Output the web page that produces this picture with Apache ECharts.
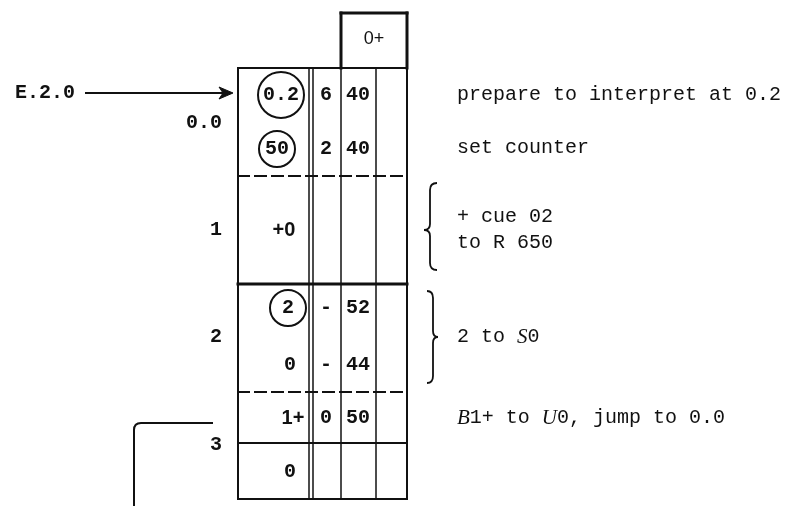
<!DOCTYPE html>
<html><head><meta charset="utf-8">
<script src="https://cdn.jsdelivr.net/npm/echarts@6/dist/echarts.min.js"></script>
<style>html,body{margin:0;padding:0;background:#fff}#c{width:793px;height:506px}</style>
</head><body><div id="c"></div>
<script>
// ---- diagram data (in diagram units; axes map 1 unit = 1 px) ----
const colEdges = [238, 309, 313, 341, 376, 407];        // vertical rules of the store table
const tableTop = 68, tableBottom = 499;
const rowRules = [68, 176, 284, 392, 443, 499];          // horizontal rules
const rowRuleKinds = ['solid', 'dashed', 'thick', 'dashed', 'solid', 'solid'];
const headBox = [341, 13, 407, 68];                      // "0+" box: x0, y0, x1, y1
const headLabel = '0+';

const rowY      = [95, 149, 230, 308, 365, 418, 472];
const colA      = ['0.2', '50', '+0', '2', '0', '1+', '0'];
const colAX     = [281, 277, 284, 288, 290, 293, 290];
const colARing  = [23, 18, 0, 18, 0, 0, 0];
const colB      = ['6', '2', '', '-', '-', '0', ''];
const colC      = ['40', '40', '', '52', '44', '50', ''];
const colBX = 326, colCX = 358;

const entryLabel = 'E.2.0';
const entryY = 93;
const addrLabels = ['0.0', '1', '2', '3'];
const addrY      = [123, 230, 337, 445];

const notes  = ['prepare to interpret at 0.2', 'set counter', '+ cue 02', 'to R 650',
                '2 to {i|S}0', '{i|B}1+ to {i|U}0, jump to 0.0'];
const notesY = [95, 148, 217, 243, 337, 418];
const notesX = 457;

// braces: [endX, spineX, tipX, yTop, yMid, yBottom]
const braces = [[437, 430, 424, 183, 230, 270], [427, 433, 438, 291, 337, 383]];
// arrow into 0.0: [startX, tipX, y]; jump-back bracket: [startX, y, cornerX, endY]
const arrow = [85, 233, entryY];
const jump = [213, 423, 134, 506];

// ---- build drawable items ----
const segs = [];
colEdges.forEach((x, i) => segs.push({p: [x, tableTop, x, tableBottom], w: (i === 0 || i === colEdges.length - 1) ? 2 : 1.5}));
rowRules.forEach((y, i) => segs.push({p: [colEdges[0], y, colEdges[colEdges.length - 1], y],
  w: rowRuleKinds[i] === 'thick' ? 3 : 2, dash: rowRuleKinds[i] === 'dashed'}));
segs.push({p: [headBox[0], headBox[1], headBox[2], headBox[1]], w: 3});
segs.push({p: [headBox[0], headBox[1], headBox[0], headBox[3]], w: 3});
segs.push({p: [headBox[2], headBox[1], headBox[2], headBox[3]], w: 3});

const MONO = "'Liberation Mono', 'DejaVu Sans Mono', monospace";
const SANS = "'Liberation Sans', Arial, sans-serif";
const texts = [];
texts.push({x: (headBox[0] + headBox[2]) / 2, y: 39, t: headLabel, a: 'center', f: SANS, s: 18});
rowY.forEach((y, i) => {
  const plus = colA[i].indexOf('+') >= 0;
  if (colA[i]) texts.push({x: colAX[i], y: y, t: colA[i], a: 'center', f: plus ? SANS : MONO, s: plus ? 20 : 20, b: true});
  if (colB[i]) texts.push({x: colBX, y: y, t: colB[i], a: 'center', f: MONO, s: 20, b: true});
  if (colC[i]) texts.push({x: colCX, y: y, t: colC[i], a: 'center', f: MONO, s: 20, b: true});
});
texts.push({x: 15, y: entryY, t: entryLabel, a: 'left', f: MONO, s: 20, b: true});
addrLabels.forEach((t, i) => texts.push({x: 222, y: addrY[i], t: t, a: 'right', f: MONO, s: 20, b: true}));
notes.forEach((t, i) => texts.push({x: notesX, y: notesY[i], t: t, a: 'left', f: MONO, s: 20}));

const rings = [];
rowY.forEach((y, i) => { if (colARing[i]) rings.push({x: colAX[i], y: y, r: colARing[i]}); });

const INK = '#111';
const chart = echarts.init(document.getElementById('c'), null, {renderer: 'canvas'});
chart.setOption({
  backgroundColor: '#fff',
  animation: false,
  grid: {left: 0, right: 0, top: 0, bottom: 0},
  xAxis: {type: 'value', min: 0, max: 793, show: false},
  yAxis: {type: 'value', min: 0, max: 506, inverse: true, show: false},
  series: [
    {
      type: 'custom', clip: false, silent: true,
      data: segs.map(s => [s.p[0], s.p[1]]),
      renderItem: (params, api) => {
        const s = segs[params.dataIndex];
        const a = api.coord([s.p[0], s.p[1]]), b = api.coord([s.p[2], s.p[3]]);
        return {type: 'line', shape: {x1: a[0], y1: a[1], x2: b[0], y2: b[1]},
          style: {stroke: INK, lineWidth: s.w, lineDash: s.dash ? [11, 6] : null, lineCap: 'square'}};
      }
    },
    {
      type: 'custom', clip: false, silent: true,
      data: rings.map(r => [r.x, r.y]),
      renderItem: (params, api) => {
        const r = rings[params.dataIndex];
        const c = api.coord([r.x, r.y]);
        const rr = api.size([r.r, r.r]);
        return {type: 'circle', shape: {cx: c[0], cy: c[1], r: rr[0]},
          style: {fill: null, stroke: INK, lineWidth: 2}};
      }
    },
    {
      type: 'custom', clip: false, silent: true,
      data: braces.map(b => [b[0], b[3]]),
      renderItem: (params, api) => {
        const [e, s, t, y0, ym, y1] = braces[params.dataIndex];
        const P = (x, y) => api.coord([x, y]).join(' ');
        const d = 'M' + P(e, y0) + ' Q' + P(s, y0) + ' ' + P(s, y0 + 7) +
          ' L' + P(s, ym - 6) + ' Q' + P(s, ym) + ' ' + P(t, ym) +
          ' Q' + P(s, ym) + ' ' + P(s, ym + 6) +
          ' L' + P(s, y1 - 7) + ' Q' + P(s, y1) + ' ' + P(e, y1);
        return {type: 'path', shape: {pathData: d}, style: {fill: null, stroke: INK, lineWidth: 1.8}};
      }
    },
    {
      type: 'custom', clip: false, silent: true,
      data: [[arrow[0], arrow[2]]],
      renderItem: (params, api) => {
        const [x0, xt, y] = arrow;
        const a = api.coord([x0, y]), t = api.coord([xt, y]);
        return {type: 'group', children: [
          {type: 'line', shape: {x1: a[0], y1: a[1], x2: t[0] - 10, y2: t[1]}, style: {stroke: INK, lineWidth: 2}},
          {type: 'polygon', shape: {points: [[t[0], t[1]], [t[0] - 14, t[1] - 6], [t[0] - 10, t[1]], [t[0] - 14, t[1] + 6]]},
            style: {fill: INK, stroke: INK, lineWidth: 1}}
        ]};
      }
    },
    {
      type: 'custom', clip: false, silent: true,
      data: [[jump[0], jump[1]]],
      renderItem: (params, api) => {
        const [xs, y, xc, ye] = jump;
        const P = (x, yy) => api.coord([x, yy]).join(' ');
        const d = 'M' + P(xs, y) + ' L' + P(xc + 7, y) + ' Q' + P(xc, y) + ' ' + P(xc, y + 7) + ' L' + P(xc, ye);
        return {type: 'path', shape: {pathData: d}, style: {fill: null, stroke: INK, lineWidth: 2}};
      }
    },
    {
      type: 'custom', clip: false, silent: true,
      data: texts.map(t => [t.x, t.y]),
      renderItem: (params, api) => {
        const t = texts[params.dataIndex];
        const p = api.coord([t.x, t.y]);
        return {type: 'text', x: p[0], y: p[1],
          style: {text: t.t, align: t.a, verticalAlign: 'middle', fill: INK,
            fontFamily: t.f, fontSize: t.s, fontWeight: t.b ? 'bold' : 'normal',
            rich: {i: {fontStyle: 'italic', fontFamily: "'Liberation Serif', serif", fontSize: 21, fill: INK}}}};
      }
    }
  ]
});
</script></body></html>
